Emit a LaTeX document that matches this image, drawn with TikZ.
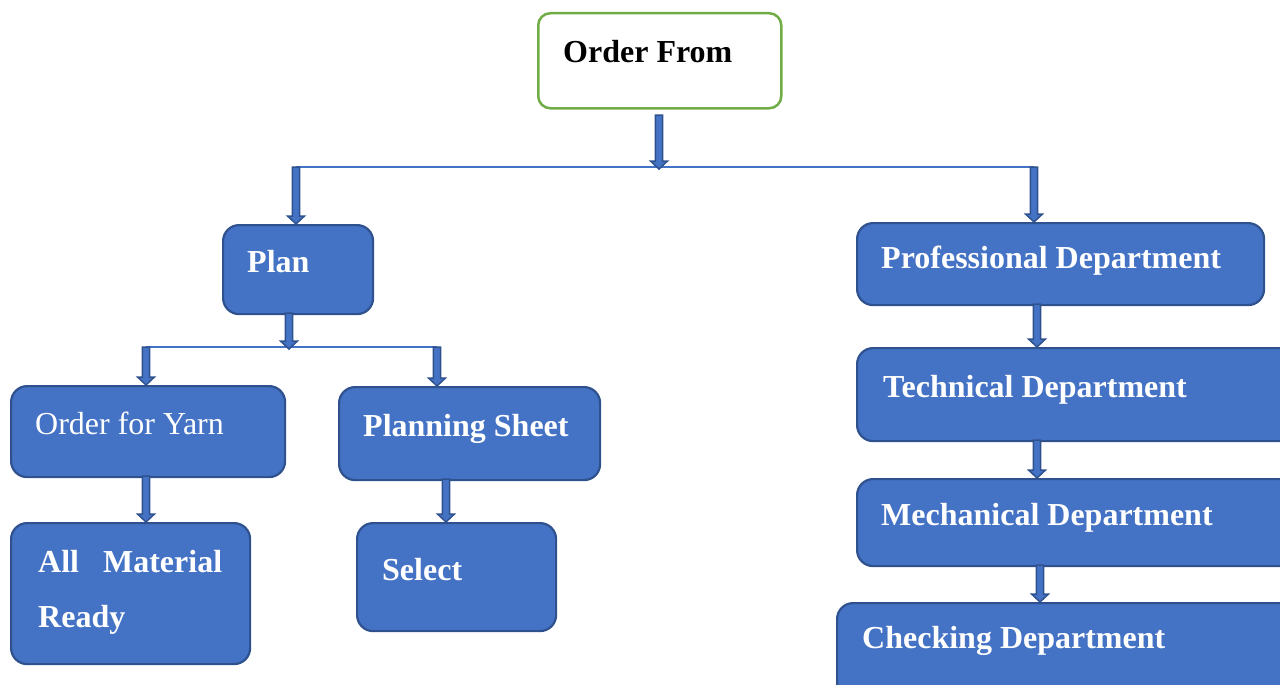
\documentclass[tikz,border=0pt]{standalone}
\usepackage{fontspec}
\setmainfont{Liberation Serif}
\usetikzlibrary{calc}
\definecolor{boxblue}{HTML}{4472C4}
\definecolor{boxedge}{HTML}{2F528F}
\definecolor{topgreen}{HTML}{70AD47}
\tikzset{
  box/.style={draw=boxedge, fill=boxblue, line width=2.2pt, rounded corners=16pt,
    anchor=north west, inner sep=0pt},
  topbox/.style={draw=topgreen, fill=white, line width=2.5pt, rounded corners=12pt,
    anchor=north west, inner sep=0pt},
  lbl/.style={anchor=base west, inner sep=0pt, text=white,
    font=\fontsize{32}{38}\selectfont\bfseries},
  lblplain/.style={lbl, font=\fontsize{32}{38}\selectfont},
  bus/.style={draw=boxblue, line width=1.3pt},
  blockarr/.style={fill=boxblue, draw=boxedge, line width=1.5pt, line join=miter}
}
% vertical block arrow from #1 down to the tip #2
\newcommand\blockarrow[2]{%
  \filldraw[blockarr] ($(#1)+(-3.6,0)$) -- ($(#2)+(-3.6,-8)$) -- ($(#2)+(-8.5,-8)$)
    -- (#2) -- ($(#2)+(8.5,-8)$) -- ($(#2)+(3.6,-8)$) -- ($(#1)+(3.6,0)$) -- cycle;}
\begin{document}
\begin{tikzpicture}[x=1pt, y=-1pt]
\useasboundingbox (0,0) rectangle (1280,685);
\clip (0,0) rectangle (1280,685);

% boxes
\node[topbox, minimum width=243pt, minimum height=95pt] (order) at (537,12) {};
\node[box, minimum width=150pt, minimum height=89pt] (plan) at (222,224) {};
\node[box, minimum width=274pt, minimum height=91pt] (yarn) at (10,385) {};
\node[box, minimum width=261pt, minimum height=93pt] (sheet) at (338,386) {};
\node[box, minimum width=239pt, minimum height=141pt] (ready) at (10,522) {};
\node[box, minimum width=199pt, minimum height=108pt] (select) at (356,522) {};
\node[box, minimum width=407pt, minimum height=82pt] (prof) at (856,222) {};
\node[box, minimum width=440pt, minimum height=93pt] (tech) at (856,347) {};
\node[box, minimum width=440pt, minimum height=87pt] (mech) at (856,478) {};
\node[box, minimum width=460pt, minimum height=100pt] (check) at (836,602) {};

% labels
\node[lbl, text=black] (orderT) at (563,63) {Order From};
\node[lbl] (planT) at (247,272) {Plan};
\node[lblplain] (yarnT) at (35,434) {Order for Yarn};
\node[lbl] (sheetT) at (363,436) {Planning Sheet};
\node[lbl] (readyT1) at (38,572) {All\ \ \ Material};
\node[lbl] (readyT2) at (38,627) {Ready};
\node[lbl] (selectT) at (382,580) {Select};
\node[lbl] (profT) at (881,268) {Professional Department};
\node[lbl] (techT) at (883,397) {Technical Department};
\node[lbl] (mechT) at (881,525) {Mechanical Department};
\node[lbl] (checkT) at (862,648) {Checking Department};

% bus lines
\coordinate (busL) at (296,167);
\coordinate (busM) at (659,169);
\coordinate (busR) at (1034,167);
\draw[bus] (busL) -- (busR);
\coordinate (bus2L) at (146,347);
\coordinate (bus2M) at (289,349);
\coordinate (bus2R) at (437,347);
\draw[bus] (bus2L) -- (bus2R);

% arrow anchor points
\coordinate (oS) at (659,115);
\coordinate (planN) at (296,224);
\coordinate (profN) at (1034,222);
\coordinate (planS) at (289,313);
\coordinate (yarnN) at (146,385);
\coordinate (sheetN) at (437,386);
\coordinate (yarnS) at (146,476);
\coordinate (readyN) at (146,522);
\coordinate (sheetS) at (446,479);
\coordinate (selectN) at (446,522);
\coordinate (profS) at (1037,304);
\coordinate (techN) at (1037,347);
\coordinate (techS) at (1037,440);
\coordinate (mechN) at (1037,478);
\coordinate (mechS) at (1040,565);
\coordinate (checkN) at (1040,602);

% block arrows
\blockarrow{oS}{busM}
\blockarrow{busL}{planN}
\blockarrow{busR}{profN}
\blockarrow{planS}{bus2M}
\blockarrow{bus2L}{yarnN}
\blockarrow{bus2R}{sheetN}
\blockarrow{yarnS}{readyN}
\blockarrow{sheetS}{selectN}
\blockarrow{profS}{techN}
\blockarrow{techS}{mechN}
\blockarrow{mechS}{checkN}
\end{tikzpicture}
\end{document}
